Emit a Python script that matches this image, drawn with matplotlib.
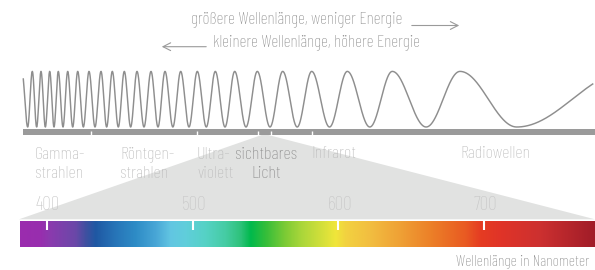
import numpy as np
import matplotlib
matplotlib.use("Agg")
import matplotlib.pyplot as plt
from matplotlib.colors import LinearSegmentedColormap
from matplotlib.patches import Polygon, Rectangle
import matplotlib.transforms as mtransforms

# ---------------- data ----------------
# wave (schematic, x in schematic px units)
wave_peaks_x = [32.3, 41.0, 49.7, 58.3, 67.7, 77.7, 89.0, 101.0, 112.3, 124.3, 137.0,
                151.0, 165.0, 180.7, 197.3, 215.3, 234.7, 257.3, 282.7, 311.7, 347.3,
                392.3, 460.0]
wave_first_trough_x = 27.7
wave_last_trough_x = 516.7
wave_start_x, wave_start_y = 23.3, 79.0
wave_end_x, wave_end_y = 592.7, 84.0

# band boundaries along the schematic spectrum bar
band_edges_x = [90.7, 197.3, 258.3, 270.7, 312.3]
band_labels = ["Gamma-\nstrahlen", "Röntgen-\nstrahlen", "Ultra-\nviolett",
               "sichtbares\nLicht", "Infrarot", "Radiowellen"]

# visible spectrum (nm)
spec_ticks_nm = [400, 500, 600, 700]
spec_stop_nm = [381.5, 395.4, 402.3, 419.4, 426.3, 433.1, 446.9, 460.6, 474.3, 484.6,
                494.9, 508.6, 522.3, 532.6, 539.5, 549.8, 563.5, 573.8, 597.8, 604.6,
                621.8, 642.4, 662.9, 686.9, 697.2, 710.9, 738.4, 776.0]
spec_stop_col = ["#9B2CAE", "#982EAE", "#8A3BAE", "#6A48A8", "#4050A0", "#1F58A3",
                 "#2775B8", "#2E8CC6", "#48A6D6", "#62C6E2", "#60CEDB", "#55D2C5",
                 "#45CCA3", "#2EC27A", "#00B94C", "#35BE3A", "#7ECB35", "#A8D63A",
                 "#F0E63A", "#F2D240", "#F2BD40", "#EFA035", "#EC8028", "#E95A22",
                 "#E53C22", "#E03428", "#CC3030", "#A01C28"]

title_long = "größere Wellenlänge, weniger Energie"
title_short = "kleinere Wellenlänge, höhere Energie"
axis_label = "Wellenlänge in Nanometer"

# ---------------- style ----------------
FONT = ["Barlow Condensed", "DejaVu Sans"]
plt.rcParams["font.family"] = FONT
plt.rcParams["font.weight"] = "light"

W, H = 595, 270
fig = plt.figure(figsize=(W / 100, H / 100), dpi=100)
ax = fig.add_axes([0, 0, 1, 1])
ax.set_xlim(0, W)
ax.set_ylim(H, 0)
ax.axis("off")

# gray triangle (zoom into visible light)
apex_x = (band_edges_x[2] + band_edges_x[3]) / 2
ax.add_patch(Polygon([(apex_x, 134.0), (19.0, 219.3), (W, 219.3)], closed=True,
                     facecolor="#E1E2E1", edgecolor="none", zorder=1))

# wave
mid, amp = 99.2, 27.8
c_start = np.arccos((mid - wave_start_y) / amp) / (2 * np.pi)
c_end = len(wave_peaks_x) + 1 - np.arccos((mid - wave_end_y) / amp) / (2 * np.pi)
anc_x = [wave_start_x, wave_first_trough_x] + wave_peaks_x + [wave_last_trough_x, wave_end_x]
anc_c = [c_start, 0.5] + list(range(1, len(wave_peaks_x) + 1)) + [len(wave_peaks_x) + 0.5, c_end]
xs = np.linspace(wave_start_x, wave_end_x, 4000)
cs = np.interp(xs, anc_x, anc_c)
ax.plot(xs, mid - amp * np.cos(2 * np.pi * cs), color="#8E8E8E", lw=1.05,
        solid_joinstyle="round", zorder=3)

# gray EM bar with white band ticks
ax.add_patch(Rectangle((23.0, 129.4), W - 23.0, 5.9, facecolor="#9A9A9A",
                       edgecolor="none", zorder=2))
for bx in band_edges_x:
    ax.plot([bx, bx], [131.3, 135.3], color="white", lw=1.0, zorder=3,
            solid_capstyle="butt")

# band labels
lab_x = [35, 120, 197, 266, 311, 460]
lab_col = ["#BDBDBD", "#BDBDBD", "#BDBDBD", "#8A8A8A", "#BDBDBD", "#BDBDBD"]
for t, x, c in zip(band_labels, lab_x, lab_col):
    centered = t.startswith("sichtbares")
    if "\n" in t:
        ax.text(x, 164.5, t, ha="center" if centered else "left", va="center",
                color=c, fontsize=13, linespacing=1.25,
                multialignment="center" if centered else "left", zorder=4)
    else:
        ax.text(x, 154.5, t, ha="left", va="center", color=c, fontsize=13, zorder=4)

# top texts with arrows
ax.text(296.5, 19.5, title_long, ha="center", va="center", color="#8F8F8F", fontsize=12.5, zorder=4)
ax.text(316.5, 43.0, title_short, ha="center", va="center", color="#8F8F8F", fontsize=12.5, zorder=4)
ax.annotate("", xy=(462, 25.5), xytext=(409, 25.5),
            arrowprops=dict(arrowstyle="->,head_length=0.55,head_width=0.28", color="#9A9A9A", lw=0.8))
ax.annotate("", xy=(159, 46.7), xytext=(209, 46.7),
            arrowprops=dict(arrowstyle="->,head_length=0.55,head_width=0.28", color="#9A9A9A", lw=0.8))

# spectrum axes
spec_min_nm, spec_max_nm = spec_stop_nm[0], spec_stop_nm[-1]
x0, x1 = 19.7 / W, 1.0
y_top, y_bot = 221.0, 246.7
axs = fig.add_axes([x0, 1 - y_bot / H, x1 - x0, (y_bot - y_top) / H])
pos = [(v - spec_min_nm) / (spec_max_nm - spec_min_nm) for v in spec_stop_nm]
cmap = LinearSegmentedColormap.from_list("spec", list(zip(pos, spec_stop_col)), N=1024)
grad = np.linspace(0, 1, 1200)[None, :]
axs.imshow(grad, cmap=cmap, aspect="auto", extent=[spec_min_nm, spec_max_nm, 0, 1],
           interpolation="bilinear")
axs.set_xlim(spec_min_nm, spec_max_nm)
axs.set_ylim(0, 1)
axs.axis("off")
for v in spec_ticks_nm:
    axs.plot([v, v], [0.66, 1.0], color="white", lw=1.5, solid_capstyle="butt")
blend = mtransforms.blended_transform_factory(axs.transData, axs.transAxes)
off = mtransforms.ScaledTranslation(-11 / 100, 15.5 / 100, fig.dpi_scale_trans)
for v in spec_ticks_nm:
    axs.text(v, 1.0, str(v), transform=blend + off, ha="left", va="center",
             color="#C6C6C6", fontsize=14, clip_on=False)

ax.text(456, 262, axis_label, ha="left", va="center", color="#8A8A8A", fontsize=11.3, zorder=4)

fig.savefig("out.png", dpi=100)
